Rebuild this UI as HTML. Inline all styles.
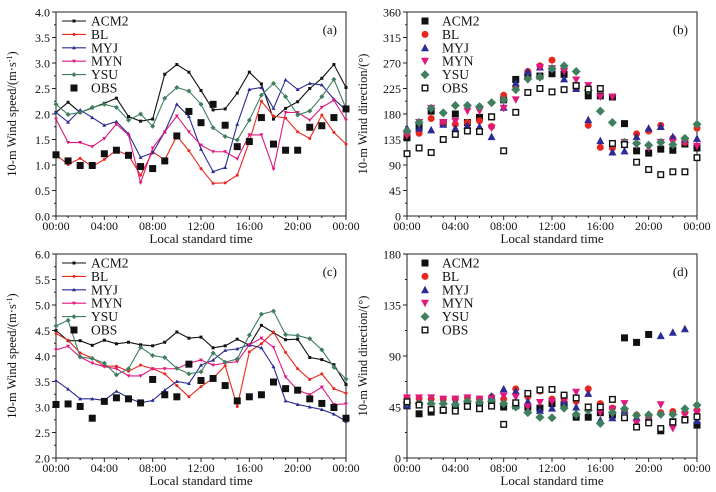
<!DOCTYPE html>
<html><head><meta charset="utf-8"><style>
body{margin:0;background:#fff}
svg{display:block;font-family:"Liberation Serif",serif}
</style></head><body>
<svg id="chart" width="716" height="492" viewBox="0 0 716 492" xmlns="http://www.w3.org/2000/svg"></svg>
<script>
const hours = [0,1,2,3,4,5,6,7,8,9,10,11,12,13,14,15,16,17,18,19,20,21,22,23,24];
const xTickLabels = ["00:00","04:00","08:00","12:00","16:00","20:00","00:00"];
const seriesNames = ["ACM2","BL","MYJ","MYN","YSU","OBS"];
// panel a: wind speed
const aACM2 = [2.03,2.23,2.03,2.12,2.21,2.31,1.95,1.86,1.90,2.78,2.97,2.82,2.46,2.08,2.10,2.41,2.82,2.59,1.90,2.11,2.24,2.50,2.70,2.97,2.52];
const aBL   = [1.20,1.01,1.13,0.97,1.11,1.29,1.19,0.80,1.26,1.10,1.57,1.28,0.93,0.64,0.65,0.80,1.46,2.25,1.96,1.92,1.65,1.52,1.98,1.64,1.41];
const aMYJ  = [2.03,1.84,2.08,1.93,1.78,1.85,1.61,1.15,1.24,1.65,2.19,1.95,1.31,0.87,0.95,1.80,2.48,2.52,2.11,2.67,2.48,2.60,2.57,2.29,2.08];
const aMYN  = [1.90,1.44,1.44,1.36,1.52,1.80,1.59,0.65,1.33,1.65,1.96,1.65,1.39,1.26,1.26,1.12,1.59,1.59,0.92,2.03,2.03,1.88,2.13,2.27,1.88];
const aYSU  = [2.19,1.99,2.03,2.13,2.19,2.13,1.88,2.00,1.76,2.31,2.52,2.45,2.19,1.73,1.56,1.49,1.88,2.37,2.60,2.34,1.98,2.06,2.34,2.68,2.11];
const aOBS  = [1.20,1.08,0.99,0.99,1.22,1.29,1.19,0.97,0.93,1.08,1.57,2.05,1.83,2.19,1.78,1.36,1.46,1.93,1.41,1.29,1.29,1.74,1.77,1.93,2.10];
// panel b: wind direction
const bACM2 = [138,158,185,165,180,165,174,175,205,241,250,247,251,250,230,212,212,210,163,115,111,118,116,127,120];
const bBL   = [145,146,172,163,162,165,168,158,213,228,255,265,275,260,225,160,121,120,130,145,150,160,137,130,155];
const bMYJ  = [155,155,152,162,155,160,158,140,192,235,255,263,260,242,225,170,133,113,115,140,155,158,140,135,137];
const bMYN  = [142,165,190,165,167,185,185,155,190,205,240,262,260,255,240,230,210,210,130,125,120,130,130,130,123];
const bYSU  = [150,165,190,182,195,195,193,200,205,223,242,245,260,265,255,222,185,165,130,128,125,130,126,137,162];
const bOBS  = [110,120,112,135,144,150,149,175,115,183,218,225,219,223,230,224,225,128,126,95,82,73,78,78,103];
// panel c: wind speed
const cACM2 = [4.50,4.30,4.30,4.21,4.31,4.24,4.27,4.22,4.20,4.27,4.47,4.35,4.37,4.16,4.20,4.33,4.21,4.60,4.46,4.32,4.33,3.97,3.93,3.83,3.44];
const cBL   = [4.44,4.31,4.06,3.96,3.80,3.80,3.70,3.82,3.75,3.65,3.42,3.20,3.40,3.56,3.81,3.01,4.08,4.24,4.47,4.07,3.75,3.54,3.65,3.36,3.27];
const cMYJ  = [3.52,3.35,3.16,3.16,3.13,3.31,3.18,3.08,3.13,3.33,3.50,3.46,3.82,3.92,4.11,4.14,4.22,4.16,3.79,3.12,3.05,3.00,2.95,2.86,2.72];
const cMYN  = [4.12,4.19,3.98,3.86,3.79,3.75,3.61,3.61,3.75,3.75,3.75,3.86,3.92,3.82,3.86,3.89,4.22,4.35,4.17,3.59,3.33,3.24,3.39,3.05,3.06];
const cYSU  = [4.59,4.70,3.98,3.95,3.86,3.63,3.75,4.17,4.01,3.97,3.76,3.65,3.69,4.06,3.88,3.94,4.41,4.82,4.88,4.42,4.40,4.34,4.12,3.78,3.55];
const cOBS  = [3.05,3.06,3.01,2.78,3.11,3.18,3.16,3.08,3.54,3.24,3.20,3.84,3.52,3.56,3.42,3.12,3.20,3.24,3.49,3.36,3.33,3.16,3.07,2.99,2.78];
// panel d: wind direction
const dACM2 = [46,39,40.5,42,45,46,47,48,45,46,45,44,48,47,36,36,40,38,106,102,109,24,32,34,29];
const dBL   = [53,52.5,52,51.7,52,53,52,54,52,61,54,59,52,51.7,50,61,48,44,42,38,36,40,41,40,42];
const dMYJ  = [46.7,50,50,50,50,51,51,54.6,61,59,50,42,44,50,45,57,33.5,35.5,42,36,36,108,111,114,33];
const dMYN  = [53,53,53,52,52,53,52,52,54.6,53.7,45,49,50,51.7,58,45,40,43,48,30.5,35,47,26,38,40];
const dYSU  = [49,48,48,48,47,50,49,50,48,45,40,36,35.5,44,38.5,42,30.5,40,43.5,37.6,38,38.5,38.5,43.5,46.7];
const dOBS  = [49.6,46.7,42.9,42.3,41.4,45.5,43.5,45.8,29.7,48.7,57,60,60.5,55.5,53,45,45,51.7,35.5,27.3,31,26,31.7,33.5,36.4];

const yTicksSpeedA = ["0.0","0.5","1.0","1.5","2.0","2.5","3.0","3.5","4.0"];
const yTicksDirB = ["0","45","90","135","180","225","270","315","360"];
const yTicksSpeedC = ["2.0","2.5","3.0","3.5","4.0","4.5","5.0","5.5","6.0"];
const yTicksDirD = ["0","45","90","135","180"];

const colors = {ACM2:"#111",BL:"#e8281e",MYJ:"#2b2b95",MYN:"#e0187f",YSU:"#3f7f5f",OBS:"#111"};
const NS="http://www.w3.org/2000/svg";
const svg=document.getElementById('chart');
function mk(tag,attrs,parent){const e=document.createElementNS(NS,tag);for(const k in attrs)e.setAttribute(k,attrs[k]);(parent||svg).appendChild(e);return e;}

function marker(g,kind,cx,cy,s,col){
  let e;
  if(kind==="sq") e=mk('rect',{x:cx-s/2,y:cy-s/2,width:s,height:s,fill:col},g);
  else if(kind==="osq") e=mk('rect',{x:cx-s/2+0.7,y:cy-s/2+0.7,width:s-1.4,height:s-1.4,fill:"#fff",stroke:col,'stroke-width':1.4},g);
  else if(kind==="circ") e=mk('circle',{cx:cx,cy:cy,r:s/2,fill:col},g);
  else if(kind==="tri") e=mk('polygon',{points:`${cx},${cy-s/2-0.5} ${cx-s/2-0.5},${cy+s/2} ${cx+s/2+0.5},${cy+s/2}`,fill:col},g);
  else if(kind==="itri") e=mk('polygon',{points:`${cx},${cy+s/2+0.5} ${cx-s/2-0.5},${cy-s/2} ${cx+s/2+0.5},${cy-s/2}`,fill:col},g);
  else if(kind==="dia") e=mk('polygon',{points:`${cx},${cy-s/2-1} ${cx+s/2+1},${cy} ${cx},${cy+s/2+1} ${cx-s/2-1},${cy}`,fill:col},g);
  return e;
}

function panel(cfg){
  const {x0,x1,y0,y1,vmin,vmax,ticks,label,ytitle,lines,data,letter}=cfg;
  const g=mk('g',{});
  
  
  const xs=h=>x0+(h/24)*(x1-x0);
  const ys=v=>y1-(v-vmin)/(vmax-vmin)*(y1-y0);
  mk('rect',{x:x0,y:y0,width:x1-x0,height:y1-y0,fill:"none",stroke:"#222",'stroke-width':1},g);
  // y ticks
  const ya=mk('g',{},g);
  
  
  const n=ticks.length-1;
  for(let i=0;i<=n;i++){
    const v=vmin+i*(vmax-vmin)/n, y=ys(v);
    mk('line',{x1:x0-4,x2:x0,y1:y,y2:y,stroke:"#222"},ya);
    if(i<n){const ym=ys(v+(vmax-vmin)/n/2);mk('line',{x1:x0-2,x2:x0,y1:ym,y2:ym,stroke:"#222"},ya);}
    const t=mk('text',{x:x0-6,y:y+4.5,'text-anchor':'end','font-size':12,fill:"#111"},ya);
    t.textContent=ticks[i];
  }
  // x ticks
  const xa=mk('g',{},g);
  
  
  for(let h=0;h<=24;h++){
    const x=xs(h);
    mk('line',{x1:x,x2:x,y1:y1,y2:y1+(h%4==0?4:2),stroke:"#222"},xa);
    if(h%4==0){const t=mk('text',{x:x,y:y1+14,'text-anchor':'middle','font-size':12,fill:"#111"},xa);t.textContent=xTickLabels[h/4];}
  }
  const xt=mk('text',{x:(x0+x1)/2,y:y1+27,'text-anchor':'middle','font-size':13,fill:"#111"},g);
  
  
  xt.textContent="Local standard time";
  const yt=mk('text',{x:0,y:0,'text-anchor':'middle','font-size':12.5,fill:"#111",transform:`translate(${x0-40},${(y0+y1)/2}) rotate(-90)`},g);
  
  
  yt.innerHTML=ytitle;
  const lt=mk('text',{x:x1-9,y:y0+22,'text-anchor':'end','font-size':13,fill:"#111"},g);
  
  
  lt.textContent="("+letter+")";
  const kinds=lines?["sm","sm","tri","itri","dia","sq"]:["sq","circ","tri","itri","dia","osq"];
  seriesNames.forEach((nm,si)=>{
    const vals=data[si], col=colors[nm];
    const sg=mk('g',{},g);
    
    
    const isLine=lines&&nm!=="OBS";
    if(isLine){
      mk('polyline',{points:hours.map((h,i)=>xs(h)+","+ys(vals[i])).join(" "),fill:"none",stroke:col,'stroke-width':1.1},sg);
      hours.forEach((h,i)=>{
        const k=nm==="MYJ"?"tri":nm==="MYN"?"itri":nm==="YSU"?"dia":nm==="BL"?"circ":"sq";
        const p=marker(sg,k,xs(h),ys(vals[i]),3,col);
        
        
      });
    } else {
      hours.forEach((h,i)=>{
        const p=marker(sg,kinds[si],xs(h),ys(vals[i]),lines?7:7,col);
        
        
      });
    }
  });
  // legend
  const lg=mk('g',{},g);
  
  
  seriesNames.forEach((nm,si)=>{
    const yy=y0+9+si*13.4, col=colors[nm];
    const e=mk('g',{},lg);
    
    
    if(lines&&nm!=="OBS"){
      mk('line',{x1:x0+6,x2:x0+30,y1:yy,y2:yy,stroke:col,'stroke-width':1.1},e);
      const k=nm==="MYJ"?"tri":nm==="MYN"?"itri":nm==="YSU"?"dia":nm==="BL"?"circ":"sq";
      marker(e,k,x0+18,yy,3,col);
    } else marker(e,kinds[si],x0+18,yy,7,col);
    const t=mk('text',{x:x0+35,y:yy+4.5,'font-size':13.5,fill:"#111"},e);
    t.textContent=nm;
  });
}
const spdTitle='10-m Wind speed/(m·s<tspan dy="-4" font-size="8">-1</tspan><tspan dy="4">)</tspan>';
const dirTitle='10-m Wind direction/(°)';
panel({letter:"a",x0:56,x1:346,y0:12,y1:216,vmin:0,vmax:4,ticks:yTicksSpeedA,lines:true,ytitle:spdTitle,data:[aACM2,aBL,aMYJ,aMYN,aYSU,aOBS]});
panel({letter:"b",x0:407,x1:697,y0:12,y1:216,vmin:0,vmax:360,ticks:yTicksDirB,lines:false,ytitle:dirTitle,data:[bACM2,bBL,bMYJ,bMYN,bYSU,bOBS]});
panel({letter:"c",x0:56,x1:346,y0:254,y1:458,vmin:2,vmax:6,ticks:yTicksSpeedC,lines:true,ytitle:spdTitle,data:[cACM2,cBL,cMYJ,cMYN,cYSU,cOBS]});
panel({letter:"d",x0:407,x1:697,y0:254,y1:458,vmin:0,vmax:180,ticks:yTicksDirD,lines:false,ytitle:dirTitle,data:[dACM2,dBL,dMYJ,dMYN,dYSU,dOBS]});
</script>
</body></html>
